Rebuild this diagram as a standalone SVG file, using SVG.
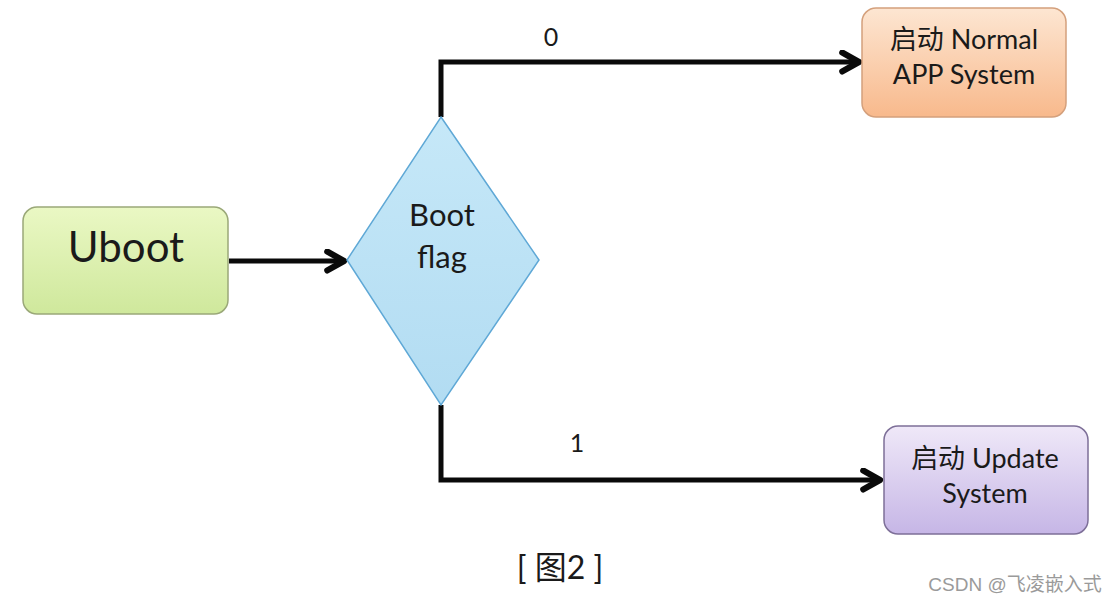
<svg xmlns="http://www.w3.org/2000/svg" width="1116" height="604" viewBox="0 0 1116 604">
<style>
.lbl{font-family:Lato,"Noto Sans","Noto Sans CJK SC",sans-serif;fill:#1a1a1a;text-anchor:middle}
.conn{fill:none;stroke:#0a0a0a;stroke-width:5;stroke-linejoin:miter}
</style>
<defs>
<linearGradient id="gGreen" x1="0" y1="0" x2="0" y2="1"><stop offset="0" stop-color="#eaf8c4"/><stop offset="1" stop-color="#cfe89c"/></linearGradient>
<linearGradient id="gOrange" x1="0" y1="0" x2="0" y2="1"><stop offset="0" stop-color="#fde6d2"/><stop offset="1" stop-color="#f8b98c"/></linearGradient>
<linearGradient id="gPurple" x1="0" y1="0" x2="0" y2="1"><stop offset="0" stop-color="#efe8f8"/><stop offset="1" stop-color="#c6b6e6"/></linearGradient>
<linearGradient id="gBlue" x1="0" y1="0" x2="0" y2="1"><stop offset="0" stop-color="#c6e8f8"/><stop offset="1" stop-color="#b2dcf2"/></linearGradient>
<marker id="arr" viewBox="0 0 12 12" refX="10" refY="6" markerWidth="5" markerHeight="5" orient="auto" markerUnits="strokeWidth">
<path d="M2,1.5 L10,6 L2,10.5" fill="none" stroke="#0a0a0a" stroke-width="3" stroke-linecap="round" stroke-linejoin="round"/>
</marker>
</defs>
<rect width="1116" height="604" fill="#ffffff"/>
<g id="connectors">
<path class="conn" d="M229,261 L344,261" marker-end="url(#arr)"/>
<path class="conn" d="M441,117 L441,62 L859,62" marker-end="url(#arr)"/>
<path class="conn" d="M441,405 L441,480 L880,480" marker-end="url(#arr)"/>
<text class="lbl" x="551" y="46" font-size="25">0</text>
<text class="lbl" x="577" y="452" font-size="25">1</text>
</g>
<g id="uboot">
<rect x="23" y="207" width="205" height="107" rx="14" fill="url(#gGreen)" stroke="#9aa878" stroke-width="1.5"/>
<text class="lbl" x="126" y="262" font-size="42">Uboot</text>
</g>
<g id="bootflag">
<polygon points="441,117 539,260 441,405 347,260" fill="url(#gBlue)" stroke="#5fa8d6" stroke-width="1.5"/>
<text class="lbl" x="442" y="226" font-size="31">Boot</text>
<text class="lbl" x="442" y="268" font-size="31">flag</text>
</g>
<g id="normal">
<rect x="862" y="8" width="204" height="109" rx="14" fill="url(#gOrange)" stroke="#d4a07c" stroke-width="1.5"/>
<text class="lbl" x="964" y="49" font-size="27" fill="#2a1a1a">启动 Normal</text>
<text class="lbl" x="964" y="84" font-size="27" fill="#2a1a1a">APP System</text>
</g>
<g id="update">
<rect x="884" y="426" width="204" height="108" rx="14" fill="url(#gPurple)" stroke="#7d6f98" stroke-width="1.5"/>
<text class="lbl" x="985" y="468" font-size="27">启动 Update</text>
<text class="lbl" x="985" y="503" font-size="27">System</text>
</g>
<text class="lbl" x="560" y="579" font-size="32" fill="#333">[ 图2 ]</text>
<text x="1015" y="591" font-family="'Liberation Sans','Noto Sans CJK SC',sans-serif" font-size="19" fill="#9a9a9a" text-anchor="middle">CSDN @飞凌嵌入式</text>
</svg>
